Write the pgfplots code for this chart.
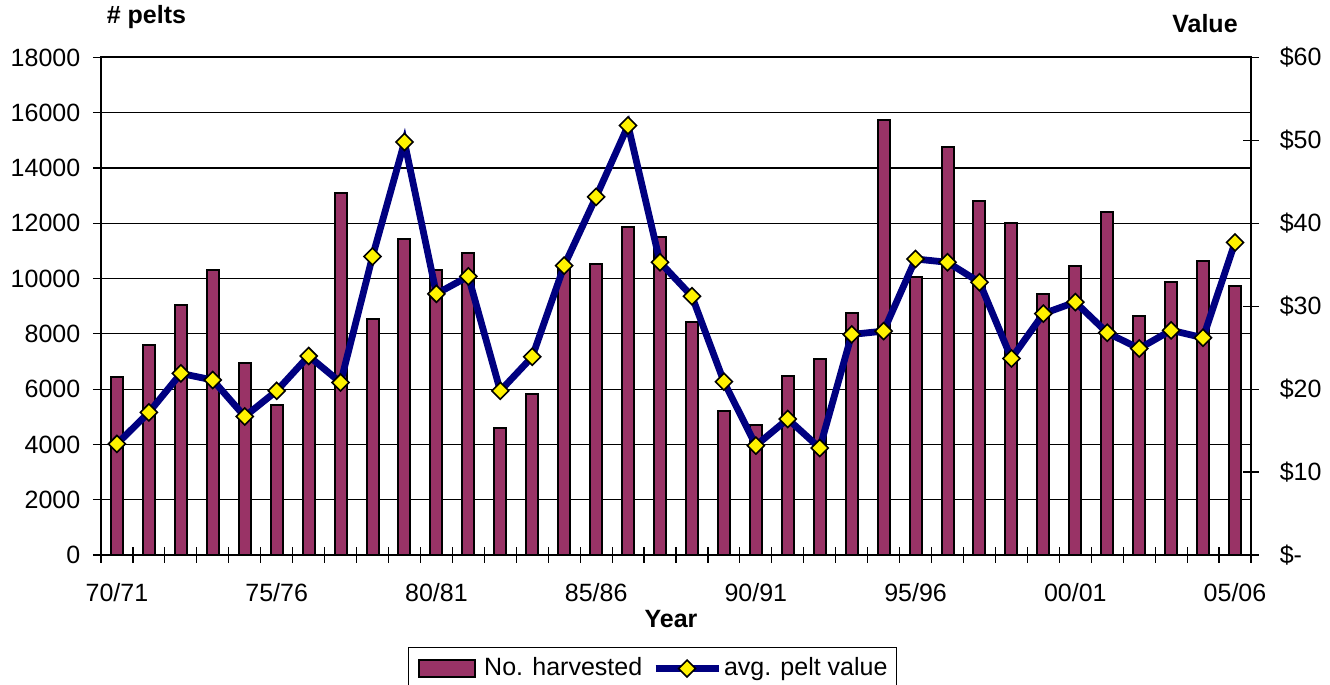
\documentclass[border=0pt]{standalone}
\usepackage{pgfplots}
\pgfplotsset{compat=1.18}
\usepackage{fontspec}
\setmainfont{Liberation Sans}
\definecolor{barcol}{HTML}{993366}
\definecolor{linecol}{HTML}{000080}
\newcommand{\fs}{\fontsize{12.5}{15}\selectfont}
\pgfplotsset{
  lineleg/.style={legend image code/.code={
    \path (-5pt,0pt);
    \draw[##1, mark=none] (0pt,0pt) -- (31.5pt,0pt);
    \draw[##1, only marks] plot coordinates {(15.75pt,0pt)};
    \path (32.5pt,0pt);}},
  barleg/.style={legend image code/.code={
    \draw[fill=barcol, draw=black, line width=1pt] (0pt,-4.25pt) rectangle (28pt,4.25pt);
    \path (32.5pt,0pt);}},
}
\begin{document}
\fs
\begin{tikzpicture}
\useasboundingbox (-50.5pt,-65pt) rectangle (614.5pt,277.5pt);
\begin{axis}[
  scale only axis, width=575pt, height=248.75pt,
  xmin=-0.5, xmax=35.5, ymin=0, ymax=18000,
  axis line style={line width=1pt},
  tick align=center,
  xtick pos=bottom, ytick pos=left,
  scaled y ticks=false,
  xtick={0,5,...,35},
  xticklabels={70/71,75/76,80/81,85/86,90/91,95/96,00/01,05/06},
  major x tick style={draw=none},
  minor xtick={-0.5,0.5,...,35.5},
  minor tick length=8pt,
  ytick={0,2000,...,18000},
  yticklabels={0,2000,4000,6000,8000,10000,12000,14000,16000,18000},
  major tick length=8pt,
  tick style={line width=0.6pt, black},
  ymajorgrids, grid style={line width=0.6pt, black},
  every tick label/.append style={font=\fs},
  yticklabel style={xshift=-2pt},
  xticklabel style={yshift=-6pt},
]
\addplot[ybar, bar width=6pt, bar shift=0pt, fill=barcol, draw=black, line width=1pt]
coordinates {
(0,6450)(1,7600)(2,9040)(3,10300)(4,6930)(5,5440)(6,7100)(7,13110)(8,8550)(9,11450)
(10,10320)(11,10920)(12,4580)(13,5840)(14,10400)(15,10520)(16,11850)(17,11510)(18,8420)(19,5220)
(20,4720)(21,6490)(22,7100)(23,8760)(24,15740)(25,10070)(26,14760)(27,12820)(28,12020)(29,9460)
(30,10460)(31,12410)(32,8660)(33,9880)(34,10630)(35,9730)};
\end{axis}
\begin{axis}[
  scale only axis, width=575pt, height=248.75pt,
  xmin=-0.5, xmax=35.5, ymin=0, ymax=60,
  axis x line=none, axis y line*=right,
  axis line style={line width=1pt, -},
  tick align=center, major tick length=7.5pt,
  tick style={line width=0.6pt, black},
  ytick={0,10,...,60},
  yticklabels={\$-,\$10,\$20,\$30,\$40,\$50,\$60},
  every tick label/.append style={font=\fs},
  yticklabel style={anchor=west, xshift=6.3pt},
  legend columns=2,
  legend cell align=left,
  legend style={at={(0.267,-0.1849)}, anchor=north west, draw=black, line width=0.6pt,
    font=\fs, inner xsep=4.5pt, inner ysep=5pt, nodes={inner sep=0pt}},
]
\addlegendimage{barleg}
\addlegendentry{No. harvested}
\addplot[linecol, line width=3.4pt, mark=square*, mark size=3pt,
  mark options={rotate=45, fill=yellow, draw=black, line width=0.8pt, solid},
  lineleg]
coordinates {
(0,13.4)(1,17.2)(2,21.9)(3,21.1)(4,16.7)(5,19.8)(6,24.0)(7,20.8)(8,36.0)(9,49.8)
(10,31.5)(11,33.6)(12,19.8)(13,23.9)(14,34.9)(15,43.2)(16,51.8)(17,35.3)(18,31.2)(19,20.9)
(20,13.2)(21,16.4)(22,12.9)(23,26.6)(24,27.0)(25,35.7)(26,35.3)(27,32.9)(28,23.7)(29,29.1)
(30,30.5)(31,26.8)(32,24.9)(33,27.1)(34,26.2)(35,37.7)};
\addlegendentry{avg. pelt value}
\end{axis}
\node[anchor=base] at (22.75pt,265.5pt) {\bfseries \# pelts};
\node[anchor=base] at (552pt,261pt) {\bfseries Value};
\node[anchor=base] at (285pt,-36.5pt) {\bfseries Year};
\end{tikzpicture}
\end{document}
